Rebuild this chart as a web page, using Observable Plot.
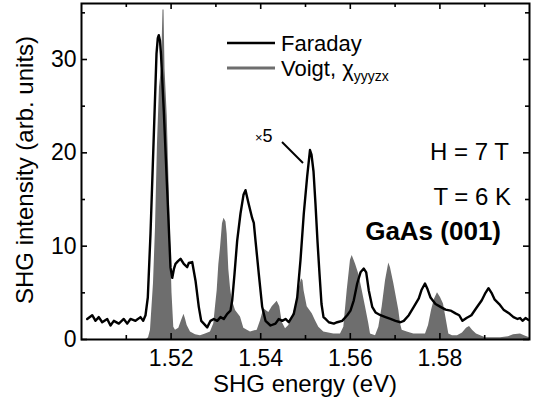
<!DOCTYPE html>
<html><head><meta charset="utf-8">
<script src="https://cdn.jsdelivr.net/npm/d3@7"></script>
<script src="https://cdn.jsdelivr.net/npm/@observablehq/plot@0.6"></script>
<style>body{margin:0;background:#fff} svg{display:block}</style>
</head><body><div id="chart"></div>
<script>
// Faraday geometry (black line)
const faradayE = [1.50127,1.50239,1.50313,1.50386,1.50462,1.50574,1.50647,1.50721,1.50833,1.50944,
1.51020,1.51094,1.51205,1.51317,1.51377,1.51429,1.51480,1.51540,1.51614,1.51674,
1.51703,1.51725,1.51752,1.51775,1.51837,1.51913,1.51987,1.52025,1.52065,1.52098,
1.52154,1.52210,1.52283,1.52359,1.52395,1.52471,1.52545,1.52618,1.52672,1.52730,
1.52806,1.52879,1.52953,1.53029,1.53103,1.53176,1.53252,1.53326,1.53364,1.53415,
1.53475,1.53549,1.53616,1.53661,1.53728,1.53810,1.53846,1.53884,1.53958,1.54033,
1.54107,1.54219,1.54330,1.54404,1.54480,1.54554,1.54627,1.54739,1.54815,1.54888,
1.54962,1.55038,1.55100,1.55134,1.55179,1.55223,1.55268,1.55313,1.55357,1.55402,
1.55446,1.55520,1.55632,1.55708,1.55819,1.55931,1.56004,1.56078,1.56154,1.56228,
1.56301,1.56355,1.56413,1.56489,1.56563,1.56674,1.56786,1.56897,1.57009,1.57121,
1.57194,1.57306,1.57417,1.57529,1.57589,1.57667,1.57723,1.57790,1.57902,1.58013,
1.58125,1.58237,1.58348,1.58431,1.58504,1.58594,1.58703,1.58817,1.58935,1.59018,
1.59085,1.59152,1.59219,1.59324,1.59420,1.59558,1.59643,1.59732,1.59790,1.59844,
1.59911,1.59978];
const faradayI = [2.2,2.6,2.0,2.4,1.85,2.2,1.5,2.0,1.7,2.2,
1.7,2.2,2.0,2.4,2.0,2.6,4.5,11.3,21.9,30.6,
32.3,32.6,32.0,30.5,24.5,16.0,7.7,6.6,7.6,8.1,
8.4,8.65,8.1,7.75,8.2,8.3,6.3,3.5,2.0,1.7,
1.3,2.0,2.2,2.0,2.4,2.2,2.75,3.1,4.2,7.0,
10.6,13.5,15.5,16.0,14.6,13.0,12.5,10.6,7.0,3.5,
2.0,1.5,1.7,2.2,2.0,2.2,1.85,2.75,4.5,8.5,
13.5,17.5,20.3,19.8,18.0,14.5,10.5,7.0,3.8,2.4,
2.2,1.85,1.7,1.85,2.0,2.6,3.1,4.2,6.0,7.2,
7.6,7.2,5.25,3.5,2.9,2.6,2.4,2.2,2.0,1.85,
2.0,2.6,3.5,4.4,5.3,6.0,5.4,4.5,3.8,3.5,
3.2,3.1,2.8,2.6,2.0,2.3,2.6,3.4,4.2,5.0,
5.5,5.0,4.3,3.8,3.2,2.75,2.4,2.2,2.3,2.0,
2.3,2.1];

// Voigt geometry, chi_yyyzx (grey filled)
const voigtE = [1.50000,1.51451,1.51496,1.51540,1.51607,1.51652,1.51696,1.51741,1.51786,1.51819,
1.51842,1.51864,1.51913,1.51953,1.51987,1.52020,1.52060,1.52098,1.52172,1.52232,
1.52288,1.52321,1.52359,1.52433,1.52545,1.52656,1.52768,1.52879,1.52953,1.52991,
1.53029,1.53065,1.53103,1.53147,1.53181,1.53225,1.53252,1.53288,1.53326,1.53364,
1.53438,1.53549,1.53623,1.53772,1.53922,1.53996,1.54069,1.54181,1.54257,1.54368,
1.54426,1.54480,1.54554,1.54627,1.54703,1.54777,1.54850,1.54911,1.54944,1.54967,
1.55038,1.55150,1.55223,1.55297,1.55408,1.55632,1.55781,1.55855,1.55931,1.56004,
1.56042,1.56116,1.56190,1.56266,1.56339,1.56413,1.56451,1.56563,1.56636,1.56712,
1.56786,1.56859,1.56897,1.56971,1.57083,1.57121,1.57158,1.57270,1.57417,1.57567,
1.57679,1.57746,1.57813,1.57879,1.57946,1.58013,1.58080,1.58147,1.58199,1.58281,
1.58393,1.58504,1.58594,1.58661,1.58728,1.58817,1.59018,1.59353,1.59531,1.59643,
1.59799,1.59888,1.60000];
const voigtI = [0,0,0.2,1.0,6,12,21,27,29,35.3,
35.3,29,24,17,10.5,5,1.3,1.0,1.2,2.0,
2.7,2.2,1.5,0.8,0.5,0.4,0.6,0.8,1.7,3.5,
5.25,8.0,9.8,12.4,13.0,12.6,11.3,7.5,5.5,4.2,
3.1,2.4,1.2,0.8,1.0,2.0,3.3,2.9,3.5,4.1,
3.5,1.85,1.15,1.5,2.4,3.5,5.25,6.5,6.3,5.25,
3.5,2.75,2.0,1.3,0.8,0.6,0.6,1.3,5.25,8.5,
9.0,8.1,7.0,5.25,3.5,1.7,0.6,0.4,1.3,3.5,
6.3,8.2,7.7,6.0,3.1,1.7,1.0,0.8,0.6,0.6,
0.6,1.5,3.1,4.3,5.0,4.5,3.8,2.0,0.6,0.4,
0.4,0.7,1.2,1.4,1.0,0.6,0.2,0.2,0.3,0.5,
0.6,0.4,0.2];

const xMajorTicks = [1.52, 1.54, 1.56, 1.58];
const xMinorTicks = [1.51, 1.53, 1.55, 1.57, 1.59];
const yMajorTicks = [0, 10, 20, 30];
const yMinorTicks = [5, 15, 25, 35];
const xTitle = "SHG energy (eV)";
const yTitle = "SHG intensity (arb. units)";
const seriesNames = ["Faraday", "Voigt, \u03C7"];
const voigtSub = "yyyzx";
const notes = ["H = 7 T", "T = 6 K", "GaAs (001)"];
const scaleNote = "5";

const faraday = faradayE.map((e, i) => ({e, v: faradayI[i]}));
const voigt = voigtE.map((e, i) => ({e, v: voigtI[i]}));

const W = 537, H = 399, mL = 81, mR = 8, mT = 3, mB = 60;
const fw = W - mL - mR, fh = H - mT - mB;
const grey = "#6e6e6e";
const font = "Liberation Sans, Arial, Helvetica, sans-serif";

const svg = Plot.plot({
  width: W, height: H,
  marginLeft: mL, marginRight: mR, marginTop: mT, marginBottom: mB,
  style: {fontFamily: font, background: "#fff", color: "#000"},
  x: {domain: [1.50, 1.60]},
  y: {domain: [0, 36]},
  marks: [
    Plot.areaY(voigt, {x: "e", y: "v", fill: grey, curve: "linear"}),
    Plot.lineY(faraday, {x: "e", y: "v", stroke: "#000", strokeWidth: 2.4, curve: "linear"}),
    // inward ticks, mirrored
    Plot.tickX(xMajorTicks, {x: d => d, insetTop: fh - 6, stroke: "#000", strokeWidth: 1.6}),
    Plot.tickX(xMinorTicks, {x: d => d, insetTop: fh - 4, stroke: "#000", strokeWidth: 1.6}),
    Plot.tickX(xMajorTicks, {x: d => d, insetBottom: fh - 6, stroke: "#000", strokeWidth: 1.6}),
    Plot.tickX(xMinorTicks, {x: d => d, insetBottom: fh - 4, stroke: "#000", strokeWidth: 1.6}),
    Plot.tickY(yMajorTicks, {y: d => d, insetRight: fw - 6, stroke: "#000", strokeWidth: 1.6}),
    Plot.tickY(yMinorTicks, {y: d => d, insetRight: fw - 4, stroke: "#000", strokeWidth: 1.6}),
    Plot.tickY(yMajorTicks, {y: d => d, insetLeft: fw - 6, stroke: "#000", strokeWidth: 1.6}),
    Plot.tickY(yMinorTicks, {y: d => d, insetLeft: fw - 4, stroke: "#000", strokeWidth: 1.6}),
    Plot.axisX(xMajorTicks, {tickSize: 0, tickPadding: 10, fontSize: 23, tickFormat: d3.format(".2f"), label: null}),
    Plot.axisY(yMajorTicks, {tickSize: 0, tickPadding: 5, fontSize: 23, label: null}),
    Plot.frame({stroke: "#000", strokeWidth: 2})
  ]
});

const s = d3.select(svg);
const g = s.append("g").attr("font-family", font).attr("fill", "#000").attr("text-anchor", "start");
// axis titles
g.append("text").attr("x", mL + fw / 2).attr("y", 392).attr("text-anchor", "middle")
  .attr("font-size", 24).text(xTitle);
g.append("text").attr("transform", "translate(33,170) rotate(-90)").attr("text-anchor", "middle")
  .attr("font-size", 24).text(yTitle);
// legend
g.append("line").attr("x1", 227).attr("x2", 275).attr("y1", 43).attr("y2", 43)
  .attr("stroke", "#000").attr("stroke-width", 2.6);
g.append("text").attr("x", 281).attr("y", 51).attr("text-anchor", "start").attr("font-size", 22).text(seriesNames[0]);
g.append("line").attr("x1", 227).attr("x2", 275).attr("y1", 68).attr("y2", 68)
  .attr("stroke", grey).attr("stroke-width", 3.2);
const vt = g.append("text").attr("x", 281).attr("y", 76).attr("text-anchor", "start").attr("font-size", 22);
vt.append("tspan").text(seriesNames[1]);
vt.append("tspan").attr("font-size", 14).attr("dy", 5).text(voigtSub);
// annotations
g.append("text").attr("x", 509).attr("y", 160).attr("text-anchor", "end").attr("font-size", 24).text(notes[0]);
g.append("text").attr("x", 511).attr("y", 205).attr("text-anchor", "end").attr("font-size", 24).text(notes[1]);
g.append("text").attr("x", 501).attr("y", 240).attr("text-anchor", "end").attr("font-size", 26)
  .attr("font-weight", "bold").text(notes[2]);
const x5 = g.append("text").attr("x", 255).attr("y", 142).attr("text-anchor", "start").attr("font-size", 18);
x5.append("tspan").attr("font-size", 13).text("\u00D7");
x5.append("tspan").text(scaleNote);
g.append("line").attr("x1", 282).attr("y1", 142).attr("x2", 303).attr("y2", 163)
  .attr("stroke", "#000").attr("stroke-width", 2);

document.getElementById("chart").appendChild(svg);
</script>
</body></html>
